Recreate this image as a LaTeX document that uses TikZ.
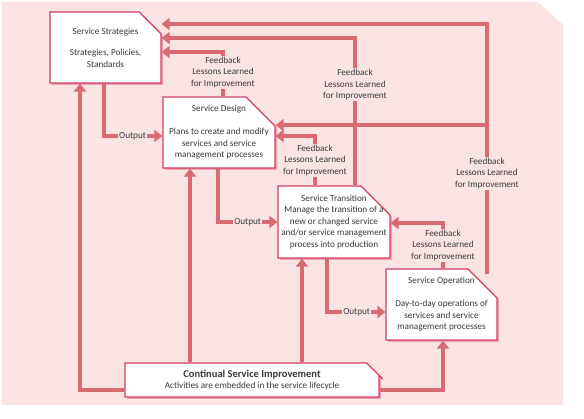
\documentclass[tikz,border=0pt]{standalone}
\usepackage{fontspec}
\setmainfont{Carlito}
\usetikzlibrary{arrows.meta,shapes.misc,shadows}
\definecolor{bgpink}{HTML}{F9E3E3}
\definecolor{flowred}{HTML}{DA6A72}
\definecolor{boxred}{HTML}{D33C63}
\definecolor{shadepink}{HTML}{EFA3B2}
\definecolor{txtgray}{HTML}{3A3A3A}
\begin{document}
\begin{tikzpicture}[x=1pt,y=-1pt,
    phase/.style={chamfered rectangle, chamfered rectangle corners=north east,
        chamfered rectangle xsep=16pt, chamfered rectangle ysep=16pt,
        draw=boxred, line width=1.2pt, fill=white, align=center, inner sep=-14pt,
        drop shadow={shadow xshift=2pt,shadow yshift=-2pt,fill=shadepink,opacity=1}},
    flow/.style={flowred, line width=4.5pt, -{Triangle[length=8pt,width=12pt]}},
    fb/.style={fill=bgpink, text=txtgray, align=center, inner sep=1pt},
    lbl/.style={fill=bgpink, text=txtgray, inner sep=1pt},
    font=\fontsize{9.2}{11.5}\selectfont, text=txtgray]
    \useasboundingbox (0,0) rectangle (584,419);
    \fill[bgpink] (2,2) -- (538,2) -- (563,25) -- (563,405) -- (2,405) -- cycle;

    % the five phases
    \node[phase, minimum width=111pt, minimum height=71pt] (SS) at (105.5,47.5)
        {Service Strategies\\[10pt]Strategies, Policies,\\Standards};
    \node[phase, minimum width=112pt, minimum height=71pt] (SD) at (219,132.5)
        {Service Design\\[11.5pt]Plans to create and modify\\services and service\\management processes};
    \node[phase, minimum width=112pt, minimum height=72pt] (ST) at (334,222)
        {Service Transition\\Manage the transition of a\\new or changed service\\and/or service management\\process into production};
    \node[phase, minimum width=111pt, minimum height=71pt] (SO) at (441.5,304.5)
        {Service Operation\\[11.5pt]Day-to-day operations of\\services and service\\management processes};
    \node[phase, minimum width=254pt, minimum height=34pt] (CSI) at (252,380)
        {{\fontsize{10.5}{12}\selectfont\bfseries Continual Service Improvement}\\Activities are embedded in the service lifecycle};

    % outputs
    \draw[flow] ([xshift=-1.5pt]SS.south) |- node[pos=0.745,lbl] {Output} ([yshift=-3.5pt]SD.west);
    \draw[flow] ([xshift=-1pt]SD.south) |- node[pos=0.75,lbl] {Output} (ST.west);
    \draw[flow] ([xshift=-7pt]ST.south) |- node[pos=0.754,lbl] {Output} ([yshift=-7.5pt]SO.west);

    % feedback
    \draw[flow] ([xshift=4pt]SD.north) |- node[pos=0.272,fb] {Feedback\\Lessons Learned\\for Improvement} ([yshift=-4.5pt]SS.east);
    \draw[flow] ([xshift=21pt]ST.north) |- node[pos=0.341,fb] {Feedback\\Lessons Learned\\for Improvement} ([yshift=9.5pt]SS.east);
    \draw[flow] ([xshift=-19pt]ST.north) |- node[pos=0.255,fb] {Feedback\\Lessons Learned\\for Improvement} ([yshift=-3.5pt]SD.east);
    \draw[flow] ([xshift=1.5pt]SO.north) |- node[pos=0.255,fb] {Feedback\\Lessons Learned\\for Improvement} ([yshift=-1pt]ST.east);
    \draw[flow] ([xshift=45.5pt,yshift=-6pt]SO.north) |- node[pos=0.202,fb] {Feedback\\Lessons Learned\\for Improvement}
        coordinate[pos=0.298] (J) ([yshift=23.5pt]SS.east);
    \draw[flow] (J) -- (J -| SD.east);

    % continual service improvement
    \draw[flow] ([yshift=-10pt]CSI.west) -| ([xshift=-25.5pt]SS.south);
    \draw[flow] ([xshift=-62pt]CSI.north) -- ([xshift=-29pt]SD.south);
    \draw[flow] ([xshift=50pt]CSI.north) -- ([xshift=-32pt]ST.south);
    \draw[flow] ([yshift=-10pt]CSI.east) -| ([xshift=1.5pt]SO.south);
\end{tikzpicture}
\end{document}
